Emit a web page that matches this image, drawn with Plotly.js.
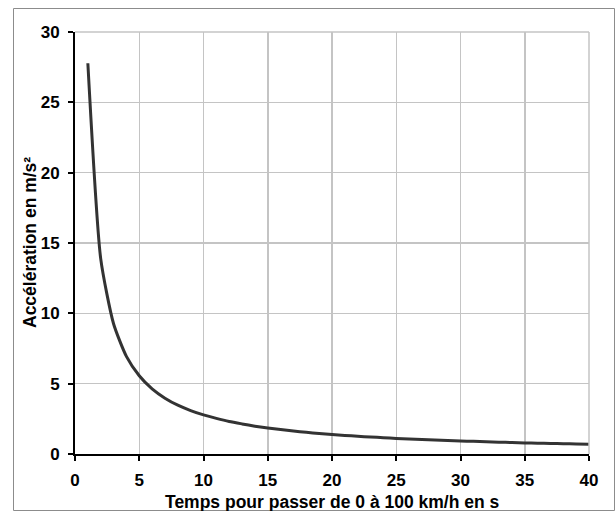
<!DOCTYPE html>
<html><head><meta charset="utf-8">
<script src="https://cdn.plot.ly/plotly-3.0.1.min.js"></script>
<style>html,body{margin:0;padding:0;background:#fff}#chart{width:616px;height:511px}</style>
</head><body><div id="chart"></div>
<script>
// Temps pour passer de 0 à 100 km/h (s)
const temps = [1,2,3,4,5,6,7,8,9,10,11,12,13,14,15,16,17,18,19,20,21,22,23,24,25,26,27,28,29,30,31,32,33,34,35,36,37,38,39,40];
// Accélération (m/s²)
const acceleration = [27.78,13.89,9.26,6.94,5.56,4.63,3.97,3.47,3.09,2.78,2.53,2.31,2.14,1.98,1.85,1.74,1.63,1.54,1.46,1.39,1.32,1.26,1.21,1.16,1.11,1.07,1.03,0.99,0.96,0.93,0.90,0.87,0.84,0.82,0.79,0.77,0.75,0.73,0.71,0.69];
const xTicks = [0,5,10,15,20,25,30,35,40];
const yTicks = [0,5,10,15,20,25,30];
const xTitle = 'Temps pour passer de 0 à 100 km/h en s';
const yTitle = 'Accélération en m/s²';

const fam = '"Liberation Sans", Arial, sans-serif';
const trace = {x: temps, y: acceleration, type: 'scatter', mode: 'lines',
  line: {color: '#333333', width: 3, shape: 'spline', smoothing: 0.6}, hoverinfo: 'skip'};

const L = 75, T = 32, W = 514, H = 422;
const layout = {
  width: 616, height: 511,
  margin: {l: L, r: 616 - L - W, t: T, b: 511 - T - H},
  paper_bgcolor: '#ffffff', plot_bgcolor: '#ffffff',
  showlegend: false,
  font: {family: fam, size: 17, color: '#000'},
  xaxis: {range: [0, 40], tickvals: xTicks, ticktext: xTicks.map(v => '<b>' + v + '</b>'),
    showgrid: true, gridcolor: '#c4c4c4', gridwidth: 1.5, zeroline: false,
    showline: true, linecolor: '#000', linewidth: 2,
    ticks: 'outside', ticklen: 5, tickwidth: 2, tickcolor: '#000', ticklabelstandoff: 5,
    tickfont: {family: fam, size: 17, color: '#000'}},
  yaxis: {range: [0, 30], tickvals: yTicks, ticktext: yTicks.map(v => '<b>' + v + '</b>'),
    showgrid: true, gridcolor: '#c4c4c4', gridwidth: 1.5, zeroline: false,
    showline: true, linecolor: '#000', linewidth: 2,
    ticks: 'outside', ticklen: 5, tickwidth: 2, tickcolor: '#000', ticklabelstandoff: 5,
    tickfont: {family: fam, size: 17, color: '#000'}},
  annotations: [
    {xref: 'paper', yref: 'paper', x: 0.5, y: (T + H - 502) / H, xanchor: 'center', yanchor: 'middle',
     text: '<b>' + xTitle + '</b>', showarrow: false, font: {family: fam, size: 17.5, color: '#000'}},
    {xref: 'paper', yref: 'paper', x: (30 - L) / W, y: 0.5, xanchor: 'center', yanchor: 'middle', textangle: -90,
     text: '<b>' + yTitle + '</b>', showarrow: false, font: {family: fam, size: 17.5, color: '#000'}}
  ],
  shapes: [
    {type: 'line', xref: 'paper', yref: 'paper', x0: 1, x1: 1, y0: 0, y1: 1, line: {color: '#c4c4c4', width: 1.5}},
    {type: 'line', xref: 'paper', yref: 'paper', x0: 0, x1: 1, y0: 1, y1: 1, line: {color: '#c4c4c4', width: 1.5}},
    {type: 'rect', xref: 'paper', yref: 'paper', x0: (13.5 - L) / W, x1: (614.5 - L) / W, y0: (T + H - 510.5) / H, y1: (T + H - 8.5) / H, line: {color: '#8c8c8c', width: 1}, layer: 'below'}
  ]
};
Plotly.newPlot('chart', [trace], layout, {staticPlot: true, displayModeBar: false});
</script></body></html>
